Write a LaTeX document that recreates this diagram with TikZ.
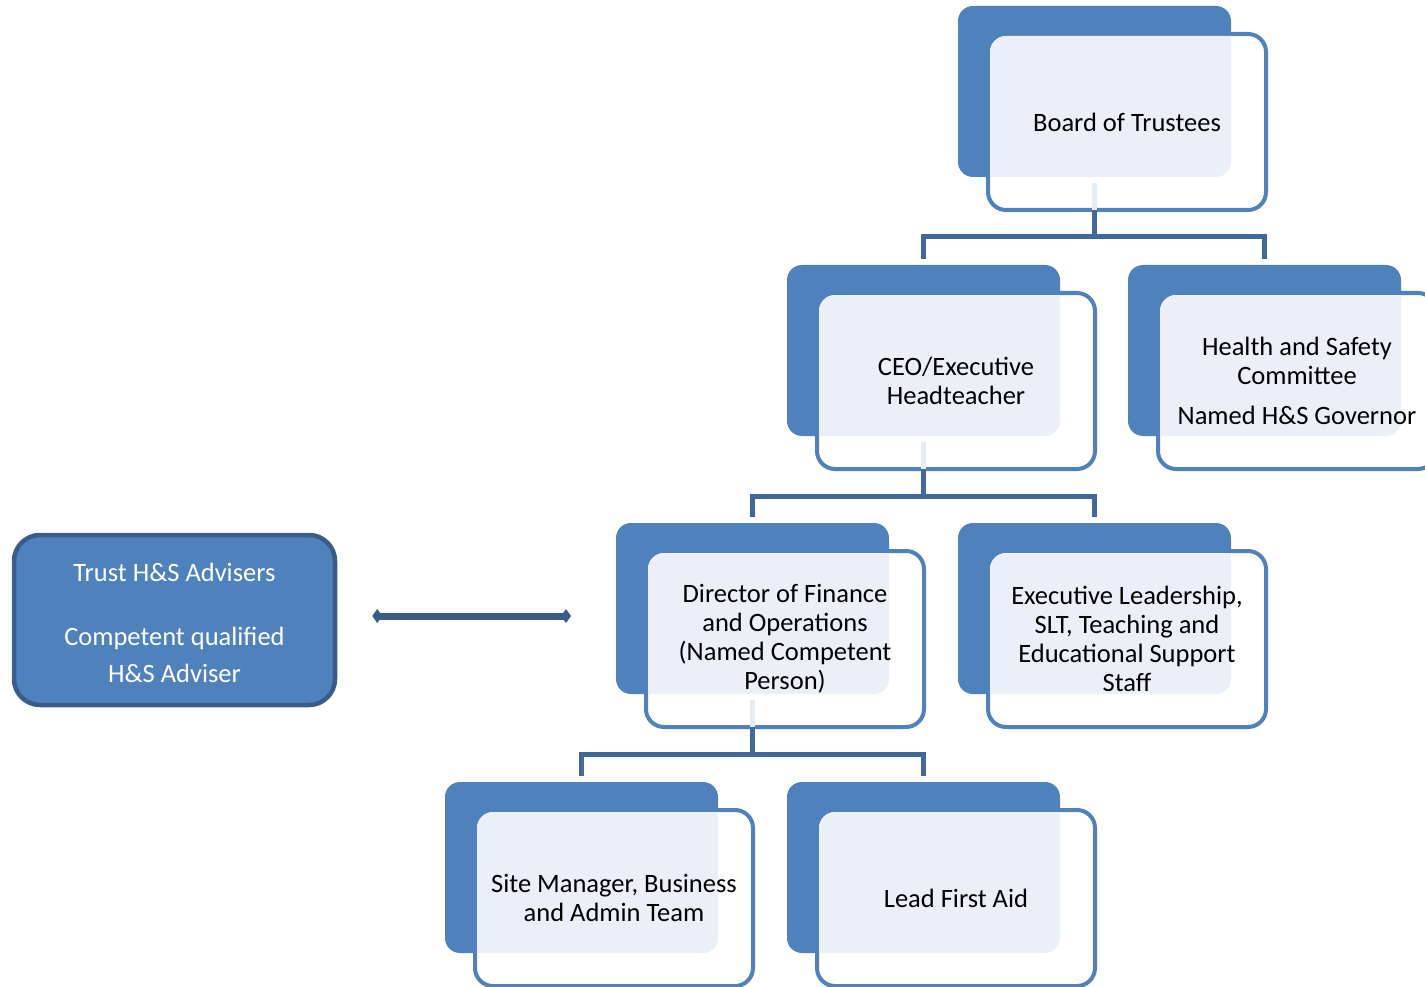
\documentclass[tikz,border=0pt]{standalone}
\usepackage{fontspec}
\setmainfont{Carlito}
\usetikzlibrary{calc,arrows.meta}

\definecolor{accent}{HTML}{4F81BD}
\definecolor{tint}{HTML}{EBF0F8}
\definecolor{stemtint}{HTML}{E6ECF4}
\definecolor{linkblue}{HTML}{41689B}
\definecolor{deepblue}{HTML}{385D8A}

\tikzset{
  backbox/.style={fill=accent, rounded corners=15pt, minimum width=273pt,
    minimum height=171pt, inner sep=0pt, outer sep=0pt, anchor=north west},
  framebox/.style={draw=accent, line width=4pt, fill=white, rounded corners=18pt,
    minimum width=278pt, minimum height=176pt, inner sep=0pt, anchor=north west},
  unittext/.style={align=center, text=black, inner sep=0pt,
    font=\fontsize{26.5}{29}\selectfont},
  advbox/.style={draw=deepblue, line width=4.5pt, fill=accent, rounded corners=26pt,
    minimum width=321pt, minimum height=170pt, inner sep=0pt},
  advtext/.style={align=center, text=white, inner sep=0pt,
    font=\fontsize{26.5}{37}\selectfont},
  link/.style={draw=linkblue, line width=5pt},
  stem/.style={draw=stemtint, line width=5pt},
  twoway/.style={draw=deepblue, line width=7pt,
    arrows={Diamond[length=10pt,width=14pt]-Diamond[length=10pt,width=14pt]}}
}

% one organisation unit: solid back panel, outlined front panel, tinted overlap
\newcommand\orgunit[4]{%
  \node[backbox] (#1-b) at (#2,#3) {};
  \node[framebox] (#1-f) at ($(#1-b.north west)+(28,26)$) {};
  \begin{scope}
    \clip[rounded corners=15pt] (#1-b.north west) rectangle (#1-b.south east);
    \fill[tint, rounded corners=16pt] ($(#1-f.north west)+(4,4)$)
      rectangle ($(#1-f.south east)+(-4,-4)$);
  \end{scope}
  \node[unittext] (#1) at (#1-f.center) {#4};
}

% parent unit feeding two child units through a horizontal bar
\newcommand\orglink[3]{%
  \draw[stem] ($(#1-b.south)+(0,6)$) -- ($(#1-b.south |- #1-f.south)+(0,-2)$);
  \coordinate (#1-bar) at ($(#1-b.south |- #1-f.south)+(0,25)$);
  \draw[link] ($(#1-b.south |- #1-f.south)+(0,-2)$) -- (#1-bar);
  \draw[link, shorten >=6pt] (#1-bar) -| (#2-b.north);
  \draw[link, shorten >=6pt] (#1-bar) -| (#3-b.north);
}

\begin{document}
\begin{tikzpicture}[x=1pt, y=-1pt]
  \useasboundingbox (0,0) rectangle (1425,987);

  \orgunit{board}{958}{6}{Board of Trustees}
  \orgunit{ceo}{787}{265}{CEO/Executive\\Headteacher}
  \orgunit{hs}{1128}{265}{Health and Safety\\Committee\\[11pt]Named H\&S Governor}
  \orgunit{dir}{616}{523}{Director of Finance\\and Operations\\(Named Competent\\Person)}
  \orgunit{exec}{958}{523}{Executive Leadership,\\SLT, Teaching and\\Educational Support\\Staff}
  \orgunit{site}{445}{782}{Site Manager, Business\\and Admin Team}
  \orgunit{aid}{787}{782}{Lead First Aid}

  \orglink{board}{ceo}{hs}
  \orglink{ceo}{dir}{exec}
  \orglink{dir}{site}{aid}

  \node[advbox] (adv) at (174.5,620) {};
  \node[advtext] (adv-t) at ($(adv.center)+(0,3)$)
    {Trust H\&S Advisers\\[27pt]Competent qualified\\H\&S Adviser};

  \draw[twoway] ($(adv.east)+(35,-4)$) -- ($(adv.east -| dir-b.west)+(-45,-4)$);
\end{tikzpicture}
\end{document}
